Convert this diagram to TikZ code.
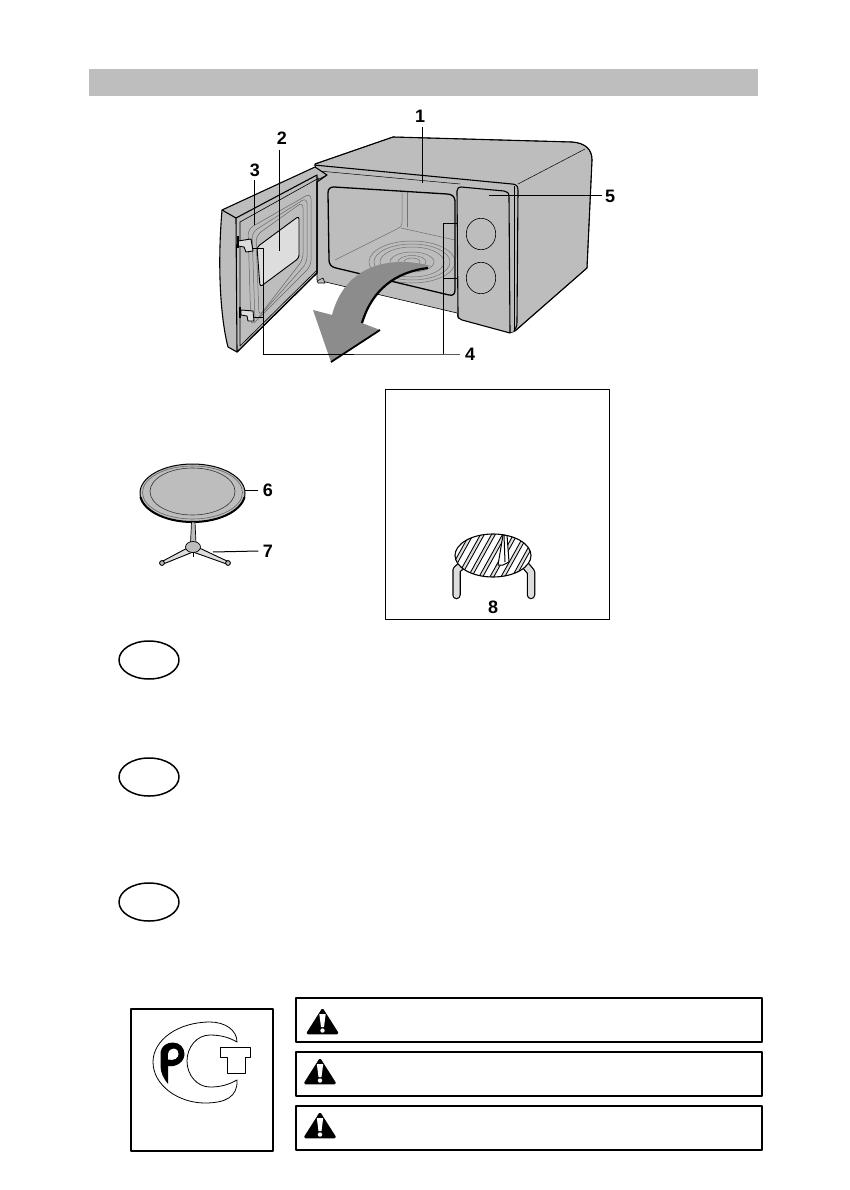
\documentclass[tikz,border=0pt]{standalone}
\usepackage{fontspec}
\usetikzlibrary{shapes.geometric}
\setmainfont{Liberation Sans}
\begin{document}
\begin{tikzpicture}[x=1pt,y=-1pt,line join=round,
  lab/.style={font=\bfseries\fontsize{18}{18}\selectfont,inner sep=0.5pt},
  leader/.style={draw=black,line width=1pt},
  ring/.style={draw=black!55,line width=0.5pt},
  edge/.style={draw=black,line width=1.1pt},
  thinedge/.style={draw=black,line width=0.6pt},
  boxed/.style={draw=black,line width=1.5pt,fill=white},
  mw/.style={fill=mwgrey},
  stamp/.style={draw=black,line width=1.7pt,fill=white},
  warn/.style={fill=black,draw=black,line width=1.5pt,rounded corners=1pt},
  oval/.style={draw=black,line width=1.5pt,ellipse,minimum width=60pt,minimum height=38pt,inner sep=0pt},
  doorring/.style={draw=black!60,line width=0.5pt,rounded corners=6pt}]
\definecolor{mwgrey}{HTML}{BDBDBD}
\definecolor{bargrey}{HTML}{BEBEBE}
\definecolor{winGrey}{HTML}{DDDDDD}
\definecolor{arrowGrey}{HTML}{8C8C8C}
\useasboundingbox (0,0) rectangle (850,1190);
\fill[white] (0,0) rectangle (850,1190);
% header bar
\fill[bargrey] (89,69) rectangle (758,96);
% microwave body
\path[mw,thinedge] (315,164) -- (393,137) -- (572,142) .. controls (586,143) and (592,150) .. (592,160) -- (587,268) -- (515,331) .. controls (512,333) and (510,333) .. (507,332) -- (458,318) -- (457,313) -- (317,280) -- (317,175) -- cycle;
\draw[edge] (315,164) -- (393,137) -- (572,142) .. controls (586,143) and (592,150) .. (592,160) -- (587,268) -- (515,331);
\draw[edge] (314,165) -- (512,184) .. controls (516,184) and (518,186) .. (518,190) -- (517,322) .. controls (517,326) and (516,328) .. (514,331);
\draw[draw=black,line width=0.5pt] (518,184) -- (585,149);
\draw[thinedge] (514,186) -- (514,330);
\draw[draw=black,line width=0.5pt] (319,171) -- (460,184);
% cavity
\begin{scope}
\path[clip] (334,187) -- (447,194) .. controls (452,194) and (455,197) .. (455,201) -- (455,290) .. controls (455,294) and (453,296) .. (449,295) -- (336,268) .. controls (331,267) and (329,264) .. (329,260) -- (328,193) .. controls (328,189) and (330,187) .. (334,187) -- cycle;
\draw[ring] (402,190) -- (402,222) .. controls (402,226) and (400,228) .. (397,229) -- (335,260);
\draw[ring] (407,191) -- (407,227);
\draw[ring] (401,228) -- (455,240);
\foreach \rx/\ry in {43/21,38/18,32/15,22/10,14/6.5,8/4}
  \draw[ring] (412,262) ellipse ({\rx} and {\ry});
\end{scope}
\path[draw=black,line width=1.3pt] (334,187) -- (447,194) .. controls (452,194) and (455,197) .. (455,201) -- (455,290) .. controls (455,294) and (453,296) .. (449,295) -- (336,268) .. controls (331,267) and (329,264) .. (329,260) -- (328,193) .. controls (328,189) and (330,187) .. (334,187) -- cycle;
% control panel
\path[mw,edge] (461,187) -- (504,191) .. controls (507,191) and (509,193) .. (509,197) -- (510,333) -- (462,320) .. controls (459,319) and (458,318) .. (458,314) -- (457,191) .. controls (457,188) and (459,187) .. (461,187) -- cycle;
\draw[thinedge] (481,234) ellipse (14.7 and 15.7);
\draw[thinedge] (481,278) ellipse (14.7 and 15.7);
% door
\path[mw,edge] (222,210) -- (315,167) -- (327,175) -- (317,182) -- (317,273) -- (237,352) -- (228,347) .. controls (221,320) and (217,270) .. (222,210) -- cycle;
\draw[edge] (236,218) -- (317,175) -- (317,273) -- (237,352) -- cycle;
\draw[edge] (222,210) -- (236,218);
\draw[thinedge] (240,222) -- (319,178);
\draw[thinedge] (240,222) -- (240,346) -- (316,271);
\draw[thinedge] (317,180) -- (327,175);
\foreach \d in {0,4,8}{
 \draw[doorring] ({248+\d},{229+\d*0.8}) -- ({311-\d},{193+\d*1.1}) -- ({311-\d},{266-\d*0.8}) -- ({251+\d},{326-\d*1.2}) -- cycle;
}
% window
\path[fill=winGrey,draw=black,line width=0.9pt,rounded corners=3pt] (257,247) -- (299,216) -- (299,258) -- (260,287) -- cycle;
% latches
\path[fill=winGrey,draw=black,line width=0.9pt] (238,241) -- (251,239) -- (253,251) -- (246,252) -- (244,247) -- (238,246) -- cycle;
\draw[line width=1.6pt] (238,236) -- (238,248);
\path[fill=winGrey,draw=black,line width=0.9pt] (241,310) -- (253,311) -- (254,321) -- (248,321) -- (247,316) -- (241,315) -- cycle;
\draw[line width=1.6pt] (240,307) -- (240,318);
\path[mw,thinedge] (317,281) -- (323,278) -- (325,283) -- (318,283) -- cycle;
% big arrow
\path[fill=arrowGrey] (431,266) .. controls (390,255) and (345,265) .. (332,315) -- (313,310) -- (331,362) -- (380,330) -- (362,323) .. controls (372,290) and (395,272) .. (431,266) -- cycle;
\draw[line width=1.8pt] (331,362) -- (380,330);
\draw[line width=2.2pt] (362,323) .. controls (372,290) and (395,272) .. (428,268);
% leaders and labels
\node[lab] (l1) at (420,116) {1};
\node[lab] (l2) at (282,138) {2};
\node[lab] (l3) at (255,170) {3};
\node[lab] (l4) at (470,354) {4};
\node[lab] (l5) at (610,196) {5};
\node[lab] (l6) at (268,490) {6};
\node[lab] (l7) at (268,551) {7};
\node[lab] (l8) at (493,607) {8};
\coordinate (p1) at (422,183);
\coordinate (p2) at (279,251);
\coordinate (p3) at (254,225);
\coordinate (p5) at (489,196);
\coordinate (p6) at (245,490);
\coordinate (p7) at (213,552);
\coordinate (j4a) at (443,354);
\coordinate (j4b) at (263,354);
\coordinate (a1) at (458,224);
\coordinate (a2) at (458,278);
\coordinate (a3) at (253,248);
\coordinate (a4) at (253,317);
\draw[leader] (422,127) -- (p1);
\draw[leader] (279,150) -- (p2);
\draw[leader] (254,180) -- (p3);
\draw[leader] (l5.west) ++(-2,0) -- (p5);
\draw[leader] (l4.west) ++(-4,0) -- (j4a) -- (j4b);
\draw[leader] (j4a) -- (443,224) -- (a1);
\draw[leader] (443,278) -- (a2);
\draw[leader] (j4b) -- (263,248) -- (a3);
\draw[leader] (263,317) -- (a4);
% turntable
\path[fill=mwgrey,draw=black,line width=1pt] (192.5,493) ellipse (52.5 and 29);
\draw[line width=0.6pt,draw=black!60] (192.5,492.5) ellipse (50 and 26.5);
\draw[line width=0.6pt,draw=black!80] (192.5,491.5) ellipse (42.5 and 23.5);
\begin{scope}
\clip (130,497) rectangle (255,530);
\draw[line width=2pt] (192.5,493) ellipse (52.5 and 29);
\end{scope}
\path[fill=mwgrey,draw=black,line width=0.7pt] (191.5,522) -- (190.5,543) -- (196,543) -- (195,522) -- cycle;
\foreach \ex in {162,228}{
  \path[fill=winGrey,draw=black,line width=0.9pt] (193,545) -- (\ex,561.5) -- (\ex,564.5) -- (193,552) -- cycle;
  \path[fill=mwgrey,draw=black,line width=0.9pt] (\ex,563) circle (2.4);
}
\path[fill=mwgrey,draw=black,line width=0.7pt] (193,547) ellipse (7.5 and 5.5);
\draw[line width=1pt] (193,552) -- (193,557);
\draw[leader] (l6.west) ++(-4,0) -- (p6);
\draw[leader] (l7.west) ++(-4,0) -- (p7);
% rack box
\path[draw=black,line width=1pt] (385,389) rectangle (609,619);
\draw[line width=8.5pt,line cap=round,black] (456.5,595) -- (456.5,570) -- (462,565);
\draw[line width=8.5pt,line cap=round,black] (531,595) -- (531,572) -- (526,566);
\draw[line width=6pt,line cap=round,winGrey] (456.5,595) -- (456.5,570) -- (462,565);
\draw[line width=6pt,line cap=round,winGrey] (531,595) -- (531,572) -- (526,566);
\path[fill=white] (493,555.5) ellipse (38 and 21.5);
\begin{scope}
\path[clip] (493,555.5) ellipse (38 and 21.5);
\foreach \dx in {-55,-44,-33,-22,-11,0,11,22,33,44,55}{
  \draw[line width=4.2pt,black] ({493+\dx-15},{582}) -- ({493+\dx+15},{528});
  \draw[line width=2.2pt,winGrey] ({493+\dx-15},{582}) -- ({493+\dx+15},{528});
}
\draw[line width=1pt,fill=white] (498,565) -- (503,535) -- (507,535) -- (509,562) -- (503,565) -- cycle;
\draw[line width=1pt] (504,535) -- (505,562);
\end{scope}
\draw[line width=1.1pt] (493,555.5) ellipse (38 and 21.5);
% language ovals
\node[oval] (o1) at (149,660) {};
\node[oval] (o2) at (149,777) {};
\node[oval] (o3) at (149,902) {};
% certification stamp
\path[stamp] (131,1009) rectangle (273,1151);
\path[draw=black,line width=0.8pt] (237,1042) .. controls (237,1030) and (225,1022) .. (210,1022) .. controls (178,1022) and (153,1040) .. (153,1062) .. controls (153,1085) and (178,1103) .. (205,1103) .. controls (225,1103) and (238,1097) .. (237,1080) .. controls (228,1085) and (220,1087) .. (210,1087) .. controls (197,1087) and (187,1075) .. (187,1061) .. controls (187,1047) and (197,1035) .. (210,1035) .. controls (222,1035) and (230,1038) .. (237,1042) -- cycle;
\path[fill=black] (160.5,1052) .. controls (161.5,1046) and (167,1042.5) .. (173,1042.5) .. controls (180,1042.5) and (184.5,1048) .. (184.5,1054) .. controls (184.5,1062) and (176,1067.5) .. (168,1066) -- (168,1084) .. controls (164,1079) and (160.5,1073) .. (160.5,1066) -- cycle;
\path[fill=white] (168,1054) .. controls (169,1050) and (171,1048.5) .. (174,1048.5) .. controls (177,1048.5) and (178.5,1051) .. (178.5,1054) .. controls (178.5,1058) and (174,1061) .. (168,1059.5) -- cycle;
\path[fill=white,draw=black,line width=0.8pt] (220,1047) -- (250,1047) -- (250,1057) -- (245,1057) -- (245,1073) -- (227,1073) -- (227,1057) -- (220,1057) -- cycle;
% warning boxes
\path[boxed] (296,998) rectangle (762,1042);
\path[boxed] (296,1052) rectangle (762,1096);
\path[boxed] (296,1106) rectangle (762,1150);
\foreach \cx/\ty in {322.5/1009,320/1059,320/1113}{
  \path[warn] (\cx,\ty) -- ({\cx-15.5},{\ty+24.5}) -- ({\cx+15.5},{\ty+24.5}) -- cycle;
  \path[fill=white] ({\cx-3.2},{\ty+5}) -- ({\cx+3.2},{\ty+5}) -- ({\cx+1.5},{\ty+18}) -- ({\cx-1.5},{\ty+18}) -- cycle;
  \path[fill=white] (\cx,{\ty+21.5}) circle (2.2);
}
\end{tikzpicture}
\end{document}
